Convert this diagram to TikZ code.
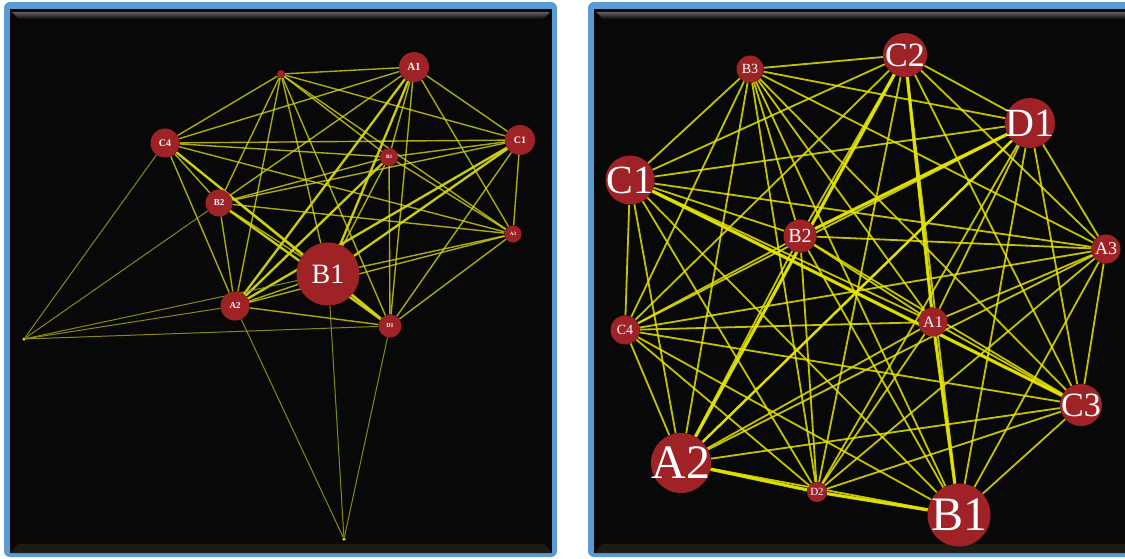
\documentclass[tikz,border=0pt]{standalone}
\usepackage{fontspec}
\setmainfont{Liberation Serif}
\pgfdeclarelayer{panel}
\pgfdeclarelayer{edges}
\pgfsetlayers{panel,edges,main}
\definecolor{frameblue}{RGB}{91,155,213}
\definecolor{panelblack}{RGB}{8,8,8}
\definecolor{bevelgray}{RGB}{95,95,95}
\definecolor{bevelbottom}{RGB}{30,27,20}
\definecolor{nodered}{RGB}{158,34,38}
\definecolor{edgeyellow}{RGB}{228,228,0}
\definecolor{edgeolive}{RGB}{212,212,20}
\definecolor{edgedim}{RGB}{160,160,20}
\begin{document}
\begin{tikzpicture}[x=1pt,y=-1pt,
  vtx/.style={circle,fill=nodered,inner sep=0pt,draw=none},
  lbl/.style={text=white,inner sep=0pt},
  endpt/.style={circle,fill=edgeolive,inner sep=0pt,minimum size=3.5pt},
  redge/.style={draw=edgeyellow,line width=1.8pt,opacity=.85},
  rthick/.style={draw=edgeyellow,line width=3.2pt,opacity=.9},
  rmid/.style={draw=edgeyellow,line width=2.5pt,opacity=.9},
  ledge/.style={draw=edgeolive,line width=1.4pt,opacity=.8},
  lthick/.style={draw=edgeolive,line width=2.4pt,opacity=.85},
  ldim/.style={draw=edgedim,line width=1pt,opacity=.85}]
\useasboundingbox (0,0) rectangle (1125,558);

% ---------- panels ----------
\begin{pgfonlayer}{panel}
\begin{scope}
\clip (0,0) rectangle (1125,558);
\fill[white] (0,0) rectangle (1125,558);
% left panel
\fill[frameblue,rounded corners=6pt] (4,2) rectangle (557,557);
\fill[panelblack] (10,9) rectangle (552,553);
\shade[top color=bevelgray,bottom color=panelblack] (12,12) -- (550,12) -- (543,19) -- (19,19) -- cycle;
\fill[bevelbottom] (10,553) -- (18,544) -- (544,544) -- (552,553) -- cycle;
% right panel
\fill[frameblue,rounded corners=6pt] (588,2) rectangle (1140,557);
\fill[panelblack] (594,9) rectangle (1140,553);
\shade[top color=bevelgray,bottom color=panelblack] (596,12) -- (1140,12) -- (1140,19) -- (603,19) -- cycle;
\fill[bevelbottom] (594,553) -- (602,544) -- (1140,544) -- (1140,553) -- cycle;
\end{scope}
\end{pgfonlayer}

% ---------- left graph nodes ----------
\node[vtx,minimum size=8pt] (LS) at (281,74) {};
\node[vtx,minimum size=30pt,label={[lbl,font=\fontsize{11}{11}\selectfont\bfseries]center:A1}] (LA1) at (414,67) {};
\node[vtx,minimum size=29pt,label={[lbl,font=\fontsize{10}{10}\selectfont\bfseries]center:C4}] (LC4) at (165,143) {};
\node[vtx,minimum size=30pt,label={[lbl,font=\fontsize{10}{10}\selectfont\bfseries]center:C1}] (LC1) at (520,140) {};
\node[vtx,minimum size=18pt,label={[lbl,font=\fontsize{5}{5}\selectfont\bfseries]center:B3}] (LB3) at (389,157) {};
\node[vtx,minimum size=27pt,label={[lbl,font=\fontsize{9}{9}\selectfont\bfseries]center:B2}] (LB2) at (219,203) {};
\node[vtx,minimum size=17pt,label={[lbl,font=\fontsize{5}{5}\selectfont\bfseries]center:A3}] (LA3) at (513,234) {};
\node[vtx,minimum size=63pt,label={[lbl,font=\fontsize{28}{28}\selectfont]center:B1}] (LB1) at (328,274) {};
\node[vtx,minimum size=29pt,label={[lbl,font=\fontsize{9}{9}\selectfont\bfseries]center:A2}] (LA2) at (235,306) {};
\node[vtx,minimum size=23pt,label={[lbl,font=\fontsize{6}{6}\selectfont\bfseries]center:D1}] (LD1) at (390,326) {};
\node[endpt] (LP1) at (24,339) {};
\node[endpt] (LP2) at (344,539) {};

% ---------- right graph nodes ----------
\node[vtx,minimum size=27pt,label={[lbl,font=\fontsize{14}{14}\selectfont]center:B3}] (RB3) at (750,69) {};
\node[vtx,minimum size=44pt,label={[lbl,font=\fontsize{34}{34}\selectfont]center:C2}] (RC2) at (905,55) {};
\node[vtx,minimum size=50pt,label={[lbl,font=\fontsize{40}{40}\selectfont]center:D1}] (RD1) at (1030,123) {};
\node[vtx,minimum size=49pt,label={[lbl,font=\fontsize{40}{40}\selectfont]center:C1}] (RC1) at (630,180) {};
\node[vtx,minimum size=33pt,label={[lbl,font=\fontsize{20}{20}\selectfont]center:B2}] (RB2) at (800,236) {};
\node[vtx,minimum size=29pt,label={[lbl,font=\fontsize{18}{18}\selectfont]center:A3}] (RA3) at (1106,249) {};
\node[vtx,minimum size=29pt,label={[lbl,font=\fontsize{16}{16}\selectfont]center:A1}] (RA1) at (933,322) {};
\node[vtx,minimum size=29pt,label={[lbl,font=\fontsize{14}{14}\selectfont]center:C4}] (RC4) at (625,330) {};
\node[vtx,minimum size=42pt,label={[lbl,font=\fontsize{34}{34}\selectfont]center:C3}] (RC3) at (1081,405) {};
\node[vtx,minimum size=60pt,label={[lbl,font=\fontsize{48}{48}\selectfont]center:A2}] (RA2) at (681,463) {};
\node[vtx,minimum size=20pt,label={[lbl,font=\fontsize{11}{11}\selectfont]center:D2}] (RD2) at (817,492) {};
\node[vtx,minimum size=63pt,label={[lbl,font=\fontsize{48}{48}\selectfont]center:B1}] (RB1) at (959,515) {};

% ---------- edges ----------
\begin{pgfonlayer}{edges}
% left: all pairs of the main nodes
\foreach \u [count=\i] in {LS,LA1,LC4,LC1,LB3,LB2,LA3,LB1,LA2,LD1}{
  \foreach \v [count=\j] in {LS,LA1,LC4,LC1,LB3,LB2,LA3,LB1,LA2,LD1}{
    \ifnum\j>\i \draw[ledge] (\u) -- (\v); \fi
  }
}
\draw[lthick] (LC4) -- (LD1);
\draw[lthick] (LB2) -- (LD1);
\draw[lthick] (LA2) -- (LA1);
\draw[lthick] (LA2) -- (LB3);
\draw[lthick] (LA2) -- (LC1);
\draw[lthick] (LB1) -- (LC1);
\draw[lthick] (LB1) -- (LA1);
\foreach \v in {LC4,LB2,LA2,LB1,LD1} \draw[ldim] (LP1) -- (\v);
\foreach \v in {LA2,LB1,LD1} \draw[ldim] (LP2) -- (\v);
% right: complete graph
\foreach \u [count=\i] in {RB3,RC2,RD1,RC1,RB2,RA3,RA1,RC4,RC3,RA2,RD2,RB1}{
  \foreach \v [count=\j] in {RB3,RC2,RD1,RC1,RB2,RA3,RA1,RC4,RC3,RA2,RD2,RB1}{
    \ifnum\j>\i \draw[redge] (\u) -- (\v); \fi
  }
}
\draw[rthick] (RC1) -- (RC3);
\draw[rthick] (RB2) -- (RD1);
\draw[rthick] (RA2) -- (RC2);
\draw[rthick] (RC2) -- (RA1);
\draw[rthick] (RA1) -- (RB1);
\draw[rthick] (RA2) -- (RD2);
\draw[rthick] (RD2) -- (RB1);
\draw[rmid] (RA2) -- (RD1);
\end{pgfonlayer}
\end{tikzpicture}
\end{document}
